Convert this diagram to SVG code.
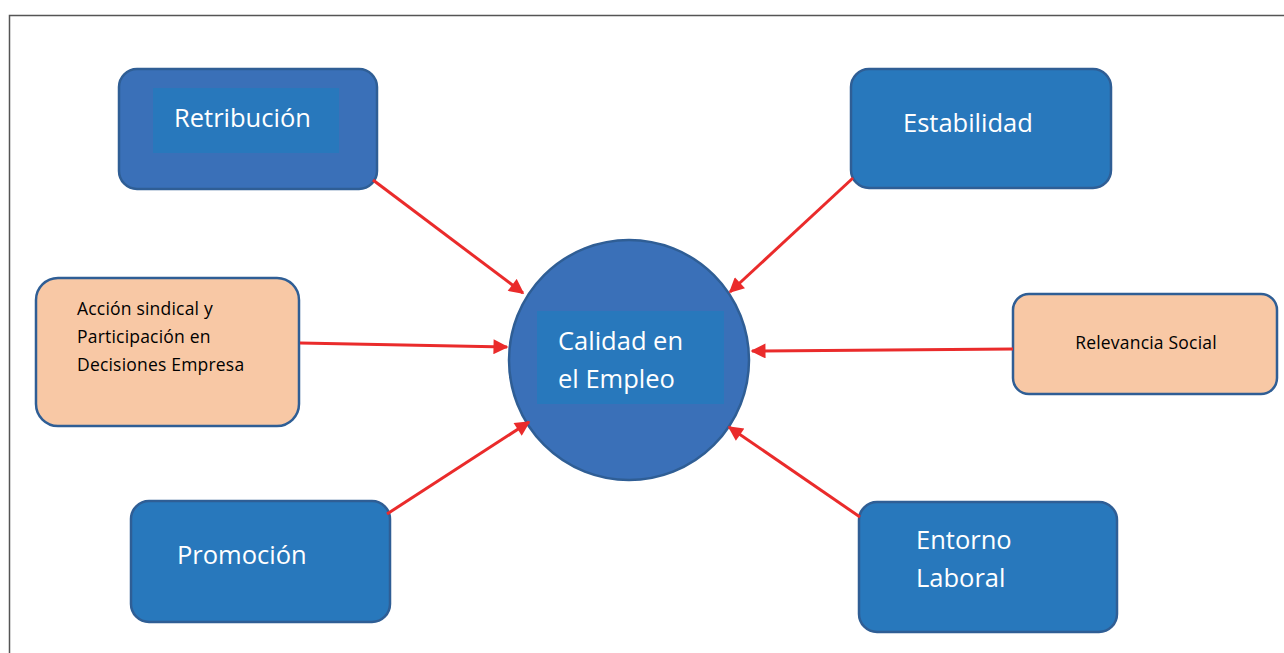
<svg xmlns="http://www.w3.org/2000/svg" width="1284" height="653" viewBox="0 0 1284 653">
<defs>
<marker id="ah" viewBox="0 0 10 10" refX="9" refY="5" markerWidth="5.5" markerHeight="5" markerUnits="strokeWidth" orient="auto">
<path d="M0,0 L10,5 L0,10 z" fill="#ea2b2b"/>
</marker>
<style>
.blue{fill:#2878bc;stroke:#2f5e95;stroke-width:2.5}
.blue2{fill:#3a70b8;stroke:#2f5e95;stroke-width:2.5}
.peach{fill:#f8c8a5;stroke:#2f5e95;stroke-width:2.5}
.inner{fill:#2878bc}
.wt{font-family:"Open Sans","Noto Sans",sans-serif;fill:#ffffff;font-size:25.5px}
.bt{font-family:"Open Sans","Noto Sans",sans-serif;fill:#000000;font-size:17.5px;letter-spacing:0.2px}
.con line{stroke:#ea2b2b;stroke-width:3;marker-end:url(#ah)}
</style>
</defs>
<rect width="1284" height="653" fill="#ffffff"/>
<path d="M9.5,653 V15.5 H1284" fill="none" stroke="#555" stroke-width="1.5"/>
<g id="retribucion">
<rect class="blue2" x="119" y="69" width="258" height="120" rx="18"/>
<rect class="inner" x="153" y="88" width="186" height="65"/>
<text class="wt" x="174" y="127">Retribución</text>
</g>
<g id="estabilidad">
<rect class="blue" x="851" y="69" width="260" height="119" rx="18"/>
<text class="wt" x="903" y="132">Estabilidad</text>
</g>
<g id="accion">
<rect class="peach" x="36" y="278" width="263" height="148" rx="22"/>
<text class="bt" x="77" y="315">Acción sindical y</text>
<text class="bt" x="77" y="343">Participación en</text>
<text class="bt" x="77" y="371">Decisiones Empresa</text>
</g>
<g id="relevancia">
<rect class="peach" x="1013" y="294" width="264" height="100" rx="16"/>
<text class="bt" x="1146" y="349" text-anchor="middle">Relevancia Social</text>
</g>
<g id="calidad">
<circle cx="629" cy="360" r="120" fill="#3a70b8" stroke="#2f5e95" stroke-width="2.5"/>
<rect class="inner" x="537" y="311" width="187" height="93"/>
<text class="wt" x="558" y="350">Calidad en</text>
<text class="wt" x="558" y="388">el Empleo</text>
</g>
<g id="promocion">
<rect class="blue" x="131" y="501" width="259" height="121" rx="18"/>
<text class="wt" x="177" y="564">Promoción</text>
</g>
<g id="entorno">
<rect class="blue" x="859" y="502" width="258" height="130" rx="18"/>
<text class="wt" x="916" y="549">Entorno</text>
<text class="wt" x="916" y="587">Laboral</text>
</g>
<g id="connectors" class="con">
<line x1="373" y1="180" x2="523" y2="293"/>
<line x1="853" y1="178" x2="730" y2="292"/>
<line x1="300" y1="343" x2="507" y2="347"/>
<line x1="1013" y1="349" x2="752" y2="351"/>
<line x1="387" y1="514" x2="529" y2="422"/>
<line x1="860" y1="517" x2="729" y2="427"/>
</g>
</svg>
